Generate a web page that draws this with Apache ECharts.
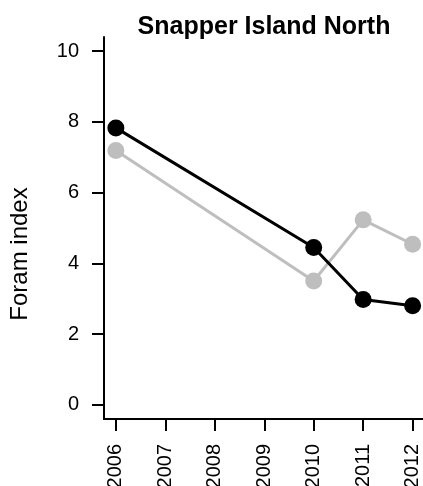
<!DOCTYPE html>
<html>
<head>
<meta charset="utf-8">
<script src="https://cdn.jsdelivr.net/npm/echarts@6/dist/echarts.min.js"></script>
<style>
  html, body { margin: 0; padding: 0; background: #fff; }
  #chart { width: 423px; height: 486px; }
</style>
</head>
<body>
<div id="chart"></div>
<script>
// Survey years and forams index per series
const years = [2006, 2010, 2011, 2012];
const seriesBlack = [7.83, 4.45, 2.98, 2.80];
const seriesGrey = [7.19, 3.50, 5.23, 4.54];
const xTicks = [2006, 2007, 2008, 2009, 2010, 2011, 2012];
const yTicks = [0, 2, 4, 6, 8, 10];

const FONT = 'Liberation Sans, Arial, sans-serif';

function pairs(xs, ys) {
  return xs.map((x, i) => [x, ys[i]]);
}

const chart = echarts.init(document.getElementById('chart'), null, { renderer: 'canvas' });

const axisCommon = {
  type: 'value',
  splitLine: { show: false },
  axisLine: { show: true, onZero: false, lineStyle: { color: '#000', width: 2 } },
  axisTick: { show: true, length: 12, lineStyle: { color: '#000', width: 2 } },
  axisLabel: {
    color: '#000', fontSize: 20, fontFamily: FONT, margin: 25,
    formatter: (v) => String(v)
  }
};

chart.setOption({
  animation: false,
  backgroundColor: '#fff',
  title: {
    text: 'Snapper Island North',
    left: 259,
    top: 10,
    textAlign: 'center',
    textStyle: { fontSize: 25, fontWeight: 'bold', color: '#000', fontFamily: FONT }
  },
  grid: { left: 104, right: -1.5, top: 37, bottom: 67, outerBoundsMode: 'none', containLabel: false },
  xAxis: Object.assign({}, axisCommon, {
    min: 2005.76,
    max: 2012.24,
    axisTick: Object.assign({}, axisCommon.axisTick, { customValues: xTicks }),
    axisLabel: Object.assign({}, axisCommon.axisLabel, { rotate: 90, customValues: xTicks })
  }),
  yAxis: Object.assign({}, axisCommon, {
    min: -0.4,
    max: 10.4,
    axisTick: Object.assign({}, axisCommon.axisTick, { customValues: yTicks }),
    axisLabel: Object.assign({}, axisCommon.axisLabel, { customValues: yTicks })
  }),
  graphic: [{
    type: 'text',
    x: 20,
    y: 254,
    rotation: Math.PI / 2,
    style: {
      text: 'Foram index',
      fontSize: 24,
      fontFamily: FONT,
      fill: '#000',
      align: 'center',
      verticalAlign: 'middle'
    }
  }],
  series: [
    {
      type: 'line',
      data: pairs(years, seriesGrey),
      symbol: 'circle',
      symbolSize: 17,
      lineStyle: { color: '#BEBEBE', width: 3 },
      itemStyle: { color: '#BEBEBE' }
    },
    {
      type: 'line',
      data: pairs(years, seriesBlack),
      symbol: 'circle',
      symbolSize: 17,
      lineStyle: { color: '#000', width: 3 },
      itemStyle: { color: '#000' }
    }
  ]
});
</script>
</body>
</html>
